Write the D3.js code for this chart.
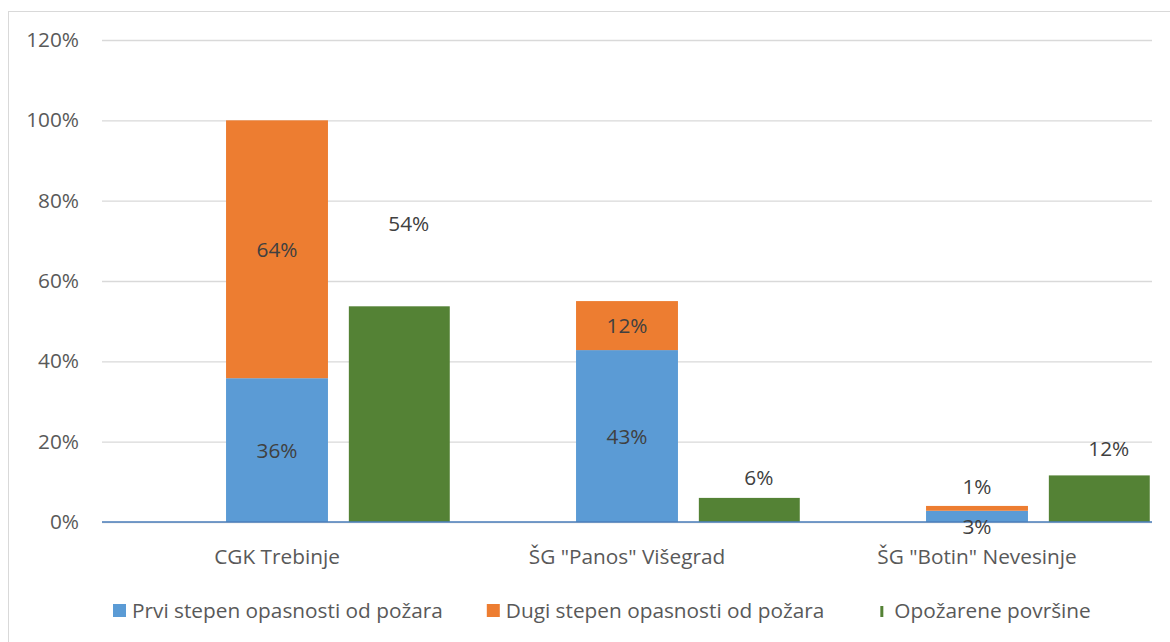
<!DOCTYPE html>
<html>
<head>
<meta charset="utf-8">
<script src="https://cdn.jsdelivr.net/npm/d3@7"></script>
<style>
  html, body { margin: 0; padding: 0; background: #ffffff; }
  svg { display: block; font-family: 'Open Sans', 'Noto Sans', sans-serif; }
</style>
</head>
<body>
<svg id="chart" width="1170" height="642"></svg>
<script>
// ---- data ----
const categories = ["CGK Trebinje", "ŠG \"Panos\" Višegrad", "ŠG \"Botin\" Nevesinje"];
const prviStepen = [0.358, 0.428, 0.028];
const drugiStepen = [0.642, 0.122, 0.012];
const opozarene = [0.537, 0.06, 0.116];
const yTicks = [0, 0.2, 0.4, 0.6, 0.8, 1.0, 1.2];
const seriesNames = ["Prvi stepen opasnosti od požara", "Dugi stepen opasnosti od požara", "Opožarene površine"];

// label anchors (value units) where labels were moved by hand; null = centred in segment
const prviLabelAt = [null, null, -0.012];
const drugiLabelAt = [null, null, 0.088];
const opozareneLabelAt = [0.744, 0.11, 0.182];

// ---- layout ----
const colors = ["#5b9bd5", "#ed7d31", "#548235"];
const textColor = "#595959";
const labelColor = "#404040";
const fontSize = 20.8;
const plotLeft = 102, plotRight = 1152, plotTop = 40, plotBottom = 522;

const svg = d3.select("#chart");

// chart border
svg.append("rect")
  .attr("x", 8.5).attr("y", 11.5)
  .attr("width", 1200).attr("height", 700)
  .attr("fill", "none").attr("stroke", "#d9d9d9").attr("stroke-width", 1);

const y = d3.scaleLinear().domain([0, 1.2]).range([plotBottom, plotTop]);
const x0 = d3.scaleBand().domain(categories).range([plotLeft, plotRight]).padding(0);
const x1 = d3.scaleBand().domain(["empty", "stack", "burned"])
  .range([0, x0.bandwidth()]).paddingInner(0.17).paddingOuter(0.01);

const fmt = d3.format(".0%");

// y axis + gridlines
const yAxis = svg.append("g")
  .attr("transform", `translate(${plotLeft},0)`)
  .call(d3.axisLeft(y).tickValues(yTicks).tickFormat(fmt)
    .tickSize(-(plotRight - plotLeft)).tickPadding(23));
yAxis.select(".domain").remove();
yAxis.selectAll(".tick line").attr("stroke", "#d9d9d9").attr("stroke-width", 1.3);
yAxis.selectAll(".tick text")
  .attr("fill", textColor).attr("font-size", fontSize)
  .attr("font-family", "'Open Sans', sans-serif");

// stacked bars
const stackData = categories.map((c, i) => ({ cat: c, prvi: prviStepen[i], drugi: drugiStepen[i] }));
const stack = d3.stack().keys(["prvi", "drugi"])(stackData);
const barG = svg.append("g");
stack.forEach((layer, li) => {
  barG.selectAll(null).data(layer).join("rect")
    .attr("x", d => x0(d.data.cat) + x1("stack"))
    .attr("width", x1.bandwidth())
    .attr("y", d => y(d[1]))
    .attr("height", d => y(d[0]) - y(d[1]))
    .attr("fill", colors[li]);
});

// burned area bars
barG.selectAll(null).data(categories).join("rect")
  .attr("x", c => x0(c) + x1("burned"))
  .attr("width", x1.bandwidth() - 1)
  .attr("y", (c, i) => y(opozarene[i]))
  .attr("height", (c, i) => y(0) - y(opozarene[i]))
  .attr("fill", colors[2]);

// baseline
svg.append("line")
  .attr("x1", plotLeft).attr("x2", plotRight)
  .attr("y1", y(0)).attr("y2", y(0))
  .attr("stroke", "#4a7ebb").attr("stroke-width", 1.6);

// data labels
const labG = svg.append("g")
  .attr("font-size", fontSize).attr("fill", labelColor)
  .attr("text-anchor", "middle");
const labelAts = [prviLabelAt, drugiLabelAt];
stack.forEach((layer, li) => {
  labG.selectAll(null).data(layer).join("text")
    .attr("x", d => x0(d.data.cat) + x1("stack") + x1.bandwidth() / 2)
    .attr("y", (d, i) => {
      const at = labelAts[li][i];
      return at === null ? (y(d[0]) + y(d[1])) / 2 : y(at);
    })
    .attr("dy", "0.36em")
    .text(d => fmt(d[1] - d[0]));
});
labG.selectAll(null).data(categories).join("text")
  .attr("x", c => x0(c) + x1("burned") + x1.bandwidth() / 2 + 9)
  .attr("y", (c, i) => y(opozareneLabelAt[i]))
  .attr("dy", "0.36em")
  .text((c, i) => fmt(opozarene[i]));

// category axis
const xAxis = svg.append("g")
  .attr("transform", `translate(0,${plotBottom})`)
  .call(d3.axisBottom(x0).tickSize(0).tickPadding(27));
xAxis.select(".domain").remove();
xAxis.selectAll(".tick text")
  .attr("fill", textColor).attr("font-size", fontSize)
  .attr("font-family", "'Open Sans', sans-serif");

// legend
const legend = svg.append("g").attr("font-size", fontSize).attr("fill", textColor);
let lx = 113;
seriesNames.forEach((name, i) => {
  const g = legend.append("g");
  let tx;
  if (i < 2) {
    g.append("rect").attr("x", lx).attr("y", 604).attr("width", 13).attr("height", 13).attr("fill", colors[i]);
    tx = lx + 19;
  } else {
    g.append("rect").attr("x", lx + 12).attr("y", 606).attr("width", 3).attr("height", 11).attr("fill", colors[i]);
    tx = lx + 26;
  }
  const t = g.append("text").attr("x", tx).attr("y", 617.5).text(name);
  lx = tx + t.node().getComputedTextLength() + 44;
});
</script>
</body>
</html>
